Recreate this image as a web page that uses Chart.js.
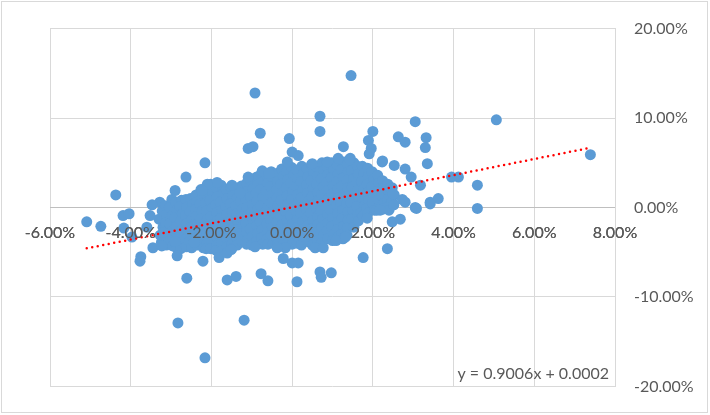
<!DOCTYPE html>
<html><head><meta charset="utf-8">
<script src="https://cdn.jsdelivr.net/npm/chart.js@4.4.1/dist/chart.umd.min.js"></script>
<style>html,body{margin:0;padding:0;background:#fff}#wrap{width:710px;height:415px;position:relative}</style>
</head><body><div id="wrap"><canvas id="c" width="710" height="415"></canvas></div>
<script>
// Values in percent (x = market return %, y = stock return %)
const xTickStep = 2, xMin = -6, xMax = 8;
const yTickStep = 10, yMin = -20, yMax = 20;
const trendSlope = 0.9006, trendIntercept = 0.0002; // fractional units, as in the label
const trendLabel = 'y = 0.9006x + 0.0002';

const upperOutliers = [
 [1.46,14.75],[-0.92,12.8],[0.69,10.2],[0.69,8.5],[-0.79,8.3],[-0.07,7.7],[-1.09,6.6],[-0.97,6.8],
 [0.0,6.2],[0.15,5.8],[-0.12,5.1],[-2.16,5.0],[-2.63,3.4],[-2.9,1.9],[-4.37,1.4],[-3.47,0.3],
 [-1.09,3.4],[-0.74,4.1],[-0.57,3.8],[-1.86,2.8],[-2.1,2.6],[-1.49,2.5],[-1.29,1.6],[-2.23,1.9],
 [0.5,4.9],[0.87,5.1],[1.14,5.5],[1.27,6.8],[1.44,5.5],[3.05,9.6],[5.06,9.8],[2.0,8.5],
 [2.63,7.9],[2.8,7.3],[3.32,7.8],[3.3,6.7],[1.89,7.5],[1.96,6.6],[3.35,4.9],[2.23,5.1],
 [2.53,4.7],[2.8,4.3],[2.95,3.4],[3.18,2.5],[3.95,3.4],[4.12,3.4],[4.59,2.5],[7.39,5.9],
 [2.73,0.9],[2.8,0.6],[3.05,0.0],[3.42,0.6],[3.62,1.0],[4.59,-0.1],[2.43,2.2],[2.5,1.5],
 [1.42,5.35],[1.91,6.0],[2.24,5.2]
];
const lowerOutliers = [
 [-5.09,-1.6],[-4.74,-2.1],[-4.19,-0.9],[-4.04,-0.7],[-3.52,-0.9],[-3.75,-5.5],[-3.77,-6.0],
 [-3.45,-4.5],[-3.23,-4.3],[-2.85,-5.4],[-2.61,-7.9],[-2.21,-6.0],[-2.83,-12.9],[-3.6,-2.2],
 [-2.9,-3.8],[-4.17,-2.3],[-3.97,-3.3],[-1.61,-8.1],[-1.39,-7.7],[-0.77,-7.4],[-0.6,-8.2],
 [0.12,-8.3],[0.69,-7.2],[0.72,-7.8],[0.97,-7.3],[-1.19,-12.6],[-2.16,-16.8],[-1.81,-5.6],
 [-1.61,-5.1],[-1.51,-4.7],[-0.22,-5.7],[-0.17,-4.5],[0.0,-6.2],[0.15,-6.2],[0.57,-4.5],
 [0.77,-4.5],[1.09,-3.7],[1.32,-3.3],[1.76,-5.6],[2.36,-4.6],[2.48,-1.6],[2.68,-1.3],
 [3.08,-0.1],[3.42,0.4],[-2.43,-3.9],[-0.92,-4.4],[-0.37,-4.5],[2.18,-0.3],[1.86,-1.2],[-3.2,-2.8]
];
const corePoints = [
 [-3.28,0.6],[-3.22,-0.4],[-3.3,-1.3],[-3.2,-2.2],[-3.27,-3.1],[-3.24,-3.9],
 [-3.14,0.2],[-3.11,-0.8],[-3.13,-1.7],[-3.1,-2.6],[-3.15,-3.5],[-3.12,-4.2],
 [-2.98,0.9],[-3.04,0.0],[-2.97,-0.9],[-3.03,-1.8],[-2.99,-2.7],[-3.05,-3.6],[-2.96,-4.3],
 [-2.88,0.6],[-2.86,-0.3],[-2.9,-1.2],[-2.87,-2.1],[-2.85,-3.0],[-2.89,-3.9],[-2.86,-4.5],
 [-2.74,0.8],[-2.78,0.1],[-2.72,-0.7],[-2.77,-1.6],[-2.73,-2.5],[-2.79,-3.3],[-2.71,-4.1],[-2.76,-4.6],
 [-2.63,0.9],[-2.61,0.0],[-2.64,-0.9],[-2.62,-1.8],[-2.6,-2.7],[-2.65,-3.6],[-2.62,-4.4],
 [-2.52,1.0],[-2.47,0.3],[-2.53,-0.5],[-2.48,-1.3],[-2.51,-2.2],[-2.46,-3.0],[-2.54,-3.8],[-2.49,-4.5],
 [-2.38,1.4],[-2.36,0.6],[-2.39,-0.2],[-2.37,-1.0],[-2.35,-1.8],[-2.4,-2.6],[-2.37,-3.4],[-2.36,-4.2],
 [-2.26,2.0],[-2.22,1.2],[-2.28,0.4],[-2.23,-0.4],[-2.27,-1.3],[-2.21,-2.2],[-2.29,-3.1],[-2.24,-3.9],[-2.2,-4.5],
 [-2.13,2.3],[-2.11,1.4],[-2.14,0.5],[-2.12,-0.4],[-2.1,-1.3],[-2.15,-2.2],[-2.12,-3.1],[-2.11,-4.0],[-2.13,-4.6],
 [-2.02,2.6],[-1.97,1.7],[-2.03,0.8],[-1.98,-0.1],[-2.01,-1.0],[-1.96,-1.9],[-2.04,-2.8],[-1.99,-3.7],[-2.02,-4.6],
 [-1.88,2.2],[-1.86,1.2],[-1.89,0.3],[-1.87,-0.6],[-1.85,-1.5],[-1.9,-2.4],[-1.87,-3.3],[-1.86,-4.2],[-1.88,-4.8],
 [-1.76,2.5],[-1.72,1.5],[-1.78,0.6],[-1.73,-0.3],[-1.77,-1.2],[-1.71,-2.1],[-1.79,-3.0],[-1.74,-3.9],[-1.76,-4.9],
 [-1.63,2.0],[-1.61,1.0],[-1.64,0.1],[-1.62,-0.8],[-1.6,-1.7],[-1.65,-2.6],[-1.62,-3.5],[-1.61,-4.4],
 [-1.52,2.3],[-1.47,1.3],[-1.53,0.4],[-1.48,-0.5],[-1.51,-1.4],[-1.46,-2.3],[-1.54,-3.2],[-1.49,-4.1],[-1.5,-4.6],
 [-1.38,2.0],[-1.36,1.1],[-1.39,0.2],[-1.37,-0.7],[-1.35,-1.6],[-1.4,-2.5],[-1.37,-3.4],[-1.36,-4.2],
 [-1.26,2.4],[-1.22,1.6],[-1.28,0.7],[-1.23,-0.2],[-1.27,-1.1],[-1.21,-2.0],[-1.29,-2.9],[-1.24,-3.8],
 [-1.13,2.7],[-1.11,1.8],[-1.14,0.9],[-1.12,0.0],[-1.1,-0.9],[-1.15,-1.8],[-1.12,-2.7],[-1.11,-3.6],[-1.13,-4.1],
 [-1.02,3.0],[-0.97,2.1],[-1.03,1.2],[-0.98,0.3],[-1.01,-0.6],[-0.96,-1.5],[-1.04,-2.4],[-0.99,-3.3],[-1.0,-4.2],
 [-0.88,3.4],[-0.86,2.5],[-0.89,1.6],[-0.87,0.7],[-0.85,-0.2],[-0.9,-1.1],[-0.87,-2.0],[-0.86,-2.9],[-0.88,-3.8],
 [-0.76,3.8],[-0.72,2.9],[-0.78,2.0],[-0.73,1.1],[-0.77,0.2],[-0.71,-0.7],[-0.79,-1.6],[-0.74,-2.5],[-0.76,-3.4],[-0.73,-4.1],
 [-0.63,3.6],[-0.61,2.7],[-0.64,1.8],[-0.62,0.9],[-0.6,0.0],[-0.65,-0.9],[-0.62,-1.8],[-0.61,-2.7],[-0.63,-3.6],[-0.6,-4.1],
 [-0.52,4.0],[-0.47,3.2],[-0.53,2.3],[-0.48,1.4],[-0.51,0.5],[-0.46,-0.4],[-0.54,-1.3],[-0.49,-2.2],[-0.52,-3.1],[-0.47,-4.0],
 [-0.38,3.8],[-0.36,2.9],[-0.39,2.0],[-0.37,1.1],[-0.35,0.2],[-0.4,-0.7],[-0.37,-1.6],[-0.36,-2.5],[-0.38,-3.4],[-0.36,-4.1],
 [-0.26,4.3],[-0.22,3.5],[-0.28,2.6],[-0.23,1.7],[-0.27,0.8],[-0.21,-0.1],[-0.29,-1.0],[-0.24,-1.9],[-0.26,-2.8],[-0.22,-3.7],
 [-0.13,4.0],[-0.11,3.1],[-0.14,2.2],[-0.12,1.3],[-0.1,0.4],[-0.15,-0.5],[-0.12,-1.4],[-0.11,-2.3],[-0.13,-3.2],[-0.12,-4.0],
 [-0.02,4.5],[0.03,3.6],[-0.03,2.7],[0.02,1.8],[-0.01,0.9],[0.04,0.0],[-0.04,-0.9],[0.01,-1.8],[-0.02,-2.7],[0.03,-3.6],[0.0,-4.1],
 [0.12,4.2],[0.14,3.2],[0.11,2.3],[0.13,1.4],[0.15,0.5],[0.1,-0.4],[0.13,-1.3],[0.14,-2.2],[0.12,-3.1],[0.13,-4.0],
 [0.24,4.6],[0.28,3.8],[0.22,2.9],[0.27,2.0],[0.23,1.1],[0.29,0.2],[0.21,-0.7],[0.26,-1.6],[0.24,-2.5],[0.28,-3.4],[0.23,-4.2],
 [0.37,4.3],[0.39,3.4],[0.36,2.5],[0.38,1.6],[0.4,0.7],[0.35,-0.2],[0.38,-1.1],[0.39,-2.0],[0.37,-2.9],[0.38,-3.8],
 [0.48,4.8],[0.53,3.9],[0.47,3.0],[0.52,2.1],[0.49,1.2],[0.54,0.3],[0.46,-0.6],[0.51,-1.5],[0.48,-2.4],[0.53,-3.3],[0.5,-4.2],
 [0.62,4.4],[0.64,3.5],[0.61,2.6],[0.63,1.7],[0.65,0.8],[0.6,-0.1],[0.63,-1.0],[0.64,-1.9],[0.62,-2.8],[0.63,-3.7],
 [0.74,5.0],[0.78,4.1],[0.72,3.2],[0.77,2.3],[0.73,1.4],[0.79,0.5],[0.71,-0.4],[0.76,-1.3],[0.74,-2.2],[0.78,-3.1],[0.73,-4.0],
 [0.87,4.6],[0.89,3.7],[0.86,2.8],[0.88,1.9],[0.9,1.0],[0.85,0.1],[0.88,-0.8],[0.89,-1.7],[0.87,-2.6],[0.88,-3.5],
 [0.98,5.0],[1.03,4.2],[0.97,3.3],[1.02,2.4],[0.99,1.5],[1.04,0.6],[0.96,-0.3],[1.01,-1.2],[0.98,-2.1],[1.03,-3.0],[1.0,-3.7],
 [1.12,4.7],[1.14,3.8],[1.11,2.9],[1.13,2.0],[1.15,1.1],[1.1,0.2],[1.13,-0.7],[1.14,-1.6],[1.12,-2.5],[1.13,-3.3],
 [1.28,5.1],[1.22,4.2],[1.27,3.3],[1.23,2.4],[1.29,1.5],[1.21,0.6],[1.26,-0.3],[1.24,-1.2],[1.28,-2.1],[1.23,-3.0],[1.26,-3.5],
 [1.37,4.8],[1.39,4.0],[1.36,3.1],[1.38,2.2],[1.4,1.3],[1.35,0.4],[1.38,-0.5],[1.39,-1.4],[1.37,-2.3],[1.36,-3.1],
 [1.53,5.0],[1.47,4.1],[1.52,3.2],[1.49,2.3],[1.54,1.4],[1.46,0.5],[1.51,-0.4],[1.48,-1.3],[1.53,-2.2],
 [1.62,4.6],[1.64,3.7],[1.61,2.8],[1.63,1.9],[1.65,1.0],[1.6,0.1],[1.63,-0.8],[1.64,-1.5],
 [1.74,4.6],[1.78,3.8],[1.72,2.9],[1.77,2.0],[1.73,1.1],[1.79,0.2],[1.71,-0.6],[1.76,-0.9],
 [1.87,4.4],[1.89,3.5],[1.86,2.6],[1.88,1.7],[1.9,0.8],[1.85,-0.1],[1.88,-0.6],
 [1.98,4.0],[2.03,3.2],[1.97,2.3],[2.02,1.4],[1.99,0.5],[2.04,-0.3],
 [2.12,3.6],[2.14,2.7],[2.11,1.8],[2.13,0.9],[2.15,0.0],[2.1,-0.3],
 [2.24,3.0],[2.28,2.2],[2.22,1.3],[2.27,0.5],[2.23,-0.2],
 [2.37,2.6],[2.39,1.8],[2.36,0.9],[2.38,0.1],[2.4,-0.3],
 [2.48,2.2],[2.53,1.4],[2.47,0.6],[2.52,0.3]
];

const allPoints = corePoints.concat(upperOutliers, lowerOutliers).map(p => ({x: p[0], y: p[1]}));
const xs = allPoints.map(p => p.x);
const tMin = Math.min(...xs), tMax = Math.max(...xs);
const trendAt = x => (trendSlope * (x / 100) + trendIntercept) * 100;
const trendPoints = [{x: tMin, y: trendAt(tMin)}, {x: tMax, y: trendAt(tMax)}];

const FONT = {family: 'Lato, "Open Sans", sans-serif', size: 16};
const TXT = '#595959';
const pct = v => Number(v).toFixed(2) + '%';

const decor = {
  id: 'decor',
  beforeDraw(chart) {
    const ctx = chart.ctx;
    ctx.save(); ctx.fillStyle = '#fff'; ctx.fillRect(0, 0, chart.width, chart.height); ctx.restore();
  },
  afterDatasetsDraw(chart) {
    // Excel draws the horizontal-axis labels above the markers
    chart.scales.x.drawLabels(chart.chartArea);
  },
  afterDraw(chart) {
    const {ctx, chartArea: a} = chart;
    ctx.save();
    ctx.strokeStyle = '#D9D9D9'; ctx.lineWidth = 1;
    ctx.strokeRect(1.5, 1.5, 706, 411);
    ctx.font = '16px Lato, "Open Sans", sans-serif';
    ctx.fillStyle = TXT; ctx.textAlign = 'right'; ctx.textBaseline = 'middle';
    ctx.fillText(trendLabel, a.right - 6, a.bottom - 13);
    ctx.restore();
  }
};

new Chart(document.getElementById('c'), {
  type: 'scatter',
  data: {
    datasets: [
      {
        type: 'line', data: trendPoints, showLine: true, pointRadius: 0,
        borderColor: '#FF0000', borderWidth: 2.5, borderDash: [0, 5.6], borderCapStyle: 'round',
        fill: false, order: 0
      },
      {
        data: allPoints, pointRadius: 5.5, pointHoverRadius: 5.5, pointBorderWidth: 0,
        backgroundColor: '#5B9BD5', borderColor: '#5B9BD5', order: 1
      }
    ]
  },
  options: {
    responsive: false, animation: false,
    layout: {padding: {left: 50, top: 24, bottom: 25, right: 0}},
    plugins: {legend: {display: false}, tooltip: {enabled: false}},
    scales: {
      x: {
        type: 'linear', min: xMin, max: xMax, position: {y: 0},
        ticks: {stepSize: xTickStep, callback: pct, font: FONT, color: TXT, padding: 16, autoSkip: false, maxRotation: 0},
        grid: {color: '#D9D9D9', lineWidth: 1, drawTicks: false},
        border: {display: true, color: '#BFBFBF', width: 1}
      },
      y: {
        type: 'linear', min: yMin, max: yMax, position: 'right',
        ticks: {stepSize: yTickStep, callback: pct, font: FONT, color: TXT, padding: 19, crossAlign: 'near'},
        grid: {color: '#D9D9D9', lineWidth: 1, drawTicks: false},
        border: {display: true, color: '#D9D9D9', width: 1},
        afterFit(s) { s.width = 95; }
      }
    }
  },
  plugins: [decor]
});
</script>
</body></html>
